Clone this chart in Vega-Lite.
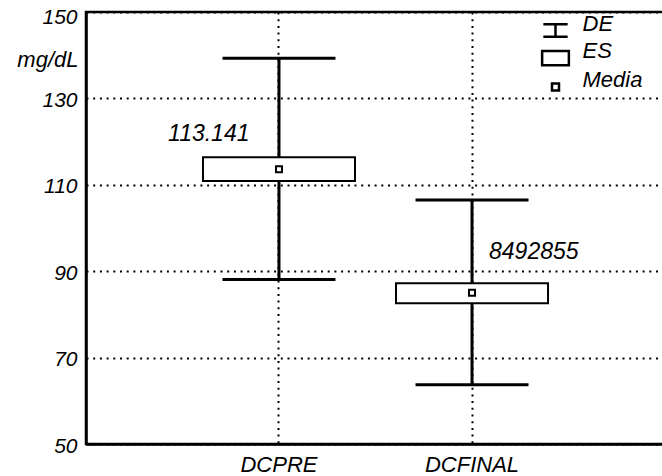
{
  "$schema": "https://vega.github.io/schema/vega-lite/v6.json",
  "width": 579,
  "height": 432,
  "autosize": {"type": "none"},
  "padding": {"left": 86, "top": 12, "right": 0, "bottom": 32},
  "background": "white",
  "config": {
    "view": {"stroke": "black", "strokeWidth": 2.5},
    "font": "Liberation Sans"
  },
  "datasets": {
    "stats": [
      {"var": "DCPRE", "mean": 113.6, "se_lo": 110.9, "se_hi": 116.4, "sd_lo": 88.1, "sd_hi": 139.3, "label": "113.141"},
      {"var": "DCFINAL", "mean": 85.0, "se_lo": 82.6, "se_hi": 87.2, "sd_lo": 63.7, "sd_hi": 106.5, "label": "8492855"}
    ],
    "legend": [
      {"item": "DE"},
      {"item": "ES"},
      {"item": "Media"}
    ]
  },
  "data": {"name": "stats"},
  "encoding": {
    "x": {
      "field": "var",
      "type": "nominal",
      "sort": ["DCPRE", "DCFINAL"],
      "scale": {"type": "band", "domain": ["DCPRE", "DCFINAL"], "paddingInner": 0.2124, "paddingOuter": 0.606},
      "axis": {
        "title": null,
        "labelAngle": 0,
        "labelFont": "Liberation Sans",
        "labelFontStyle": "italic",
        "labelFontSize": 22,
        "labelColor": "black",
        "labelPadding": 10,
        "ticks": false,
        "domain": true,
        "domainColor": "black",
        "domainWidth": 2.5,
        "grid": true,
        "bandPosition": 0.5,
        "gridColor": "black",
        "gridWidth": 2,
        "gridDash": [2, 4.7]
      }
    }
  },
  "layer": [
    {
      "mark": {"type": "rule", "color": "black", "strokeWidth": 3, "opacity": 1},
      "encoding": {
        "y": {
          "field": "sd_lo",
          "type": "quantitative",
          "scale": {"domain": [50, 150], "nice": false, "zero": false},
          "axis": {
            "title": "mg/dL",
            "titleAngle": 0,
            "titleAlign": "right",
            "titleBaseline": "alphabetic",
            "titleX": -8,
            "titleY": 54.7,
            "titleFont": "Liberation Sans",
            "titleFontStyle": "italic",
            "titleFontWeight": "normal",
            "titleFontSize": 22,
            "titleColor": "black",
            "values": [50, 70, 90, 110, 130, 150],
            "labelFont": "Liberation Sans",
            "labelFontStyle": "italic",
            "labelFontSize": 21,
            "labelColor": "black",
            "labelPadding": 9,
            "labelOffset": {"condition": {"test": "datum.value == 150", "value": 5}, "value": 2},
            "ticks": false,
            "domain": true,
            "domainColor": "black",
            "domainWidth": 2.5,
            "grid": true,
            "gridColor": "black",
            "gridWidth": 2,
            "gridDash": [2, 4.7]
          }
        },
        "y2": {"field": "sd_hi"}
      }
    },
    {
      "mark": {"type": "tick", "color": "black", "thickness": 3, "opacity": 1},
      "encoding": {
        "y": {"field": "sd_hi", "type": "quantitative"},
        "size": {"value": 113}
      }
    },
    {
      "mark": {"type": "tick", "color": "black", "thickness": 3, "opacity": 1},
      "encoding": {
        "y": {"field": "sd_lo", "type": "quantitative"},
        "size": {"value": 113}
      }
    },
    {
      "mark": {"type": "bar", "fill": "white", "stroke": "black", "strokeWidth": 2, "opacity": 1},
      "encoding": {
        "y": {"field": "se_lo", "type": "quantitative"},
        "y2": {"field": "se_hi"}
      }
    },
    {
      "mark": {"type": "point", "shape": "square", "filled": false, "fill": "white", "fillOpacity": 1, "stroke": "black", "strokeWidth": 2, "size": 36, "opacity": 1},
      "encoding": {
        "y": {"field": "mean", "type": "quantitative"}
      }
    },
    {
      "transform": [{"filter": "datum.var == 'DCPRE'"}],
      "mark": {"type": "text", "align": "right", "baseline": "middle", "dx": -29.5, "dy": -35, "font": "Liberation Sans", "fontStyle": "italic", "fontSize": 23, "color": "black"},
      "encoding": {
        "y": {"field": "mean", "type": "quantitative"},
        "text": {"field": "label"}
      }
    },
    {
      "transform": [{"filter": "datum.var == 'DCFINAL'"}],
      "mark": {"type": "text", "align": "left", "baseline": "middle", "dx": 17, "dy": -41, "font": "Liberation Sans", "fontStyle": "italic", "fontSize": 23, "color": "black"},
      "encoding": {
        "y": {"field": "mean", "type": "quantitative"},
        "text": {"field": "label"}
      }
    },
    {
      "data": {"name": "legend"},
      "mark": {"type": "point", "opacity": 0},
      "encoding": {
        "shape": {
          "field": "item",
          "type": "nominal",
          "scale": {
            "domain": ["DE", "ES", "Media"],
            "range": [
              "M-0.9,-0.47H0.9M0,-0.47V0.47M-0.9,0.47H0.9",
              "M-0.99,-0.53H0.99V0.53H-0.99Z",
              "M-0.26,-0.26H0.26V0.26H-0.26Z"
            ]
          },
          "legend": {
            "title": null,
            "orient": "none",
            "legendX": 454.5,
            "legendY": 3.5,
            "padding": 0,
            "symbolSize": 729,
            "symbolStrokeWidth": 2.5,
            "symbolStrokeColor": "black",
            "symbolFillColor": "white",
            "symbolOpacity": 1,
            "labelOffset": 12,
            "rowPadding": -2.3,
            "labelFont": "Liberation Sans",
            "labelFontStyle": "italic",
            "labelFontSize": 22,
            "labelColor": "black",
            "labelBaseline": "alphabetic"
          }
        }
      }
    }
  ]
}
